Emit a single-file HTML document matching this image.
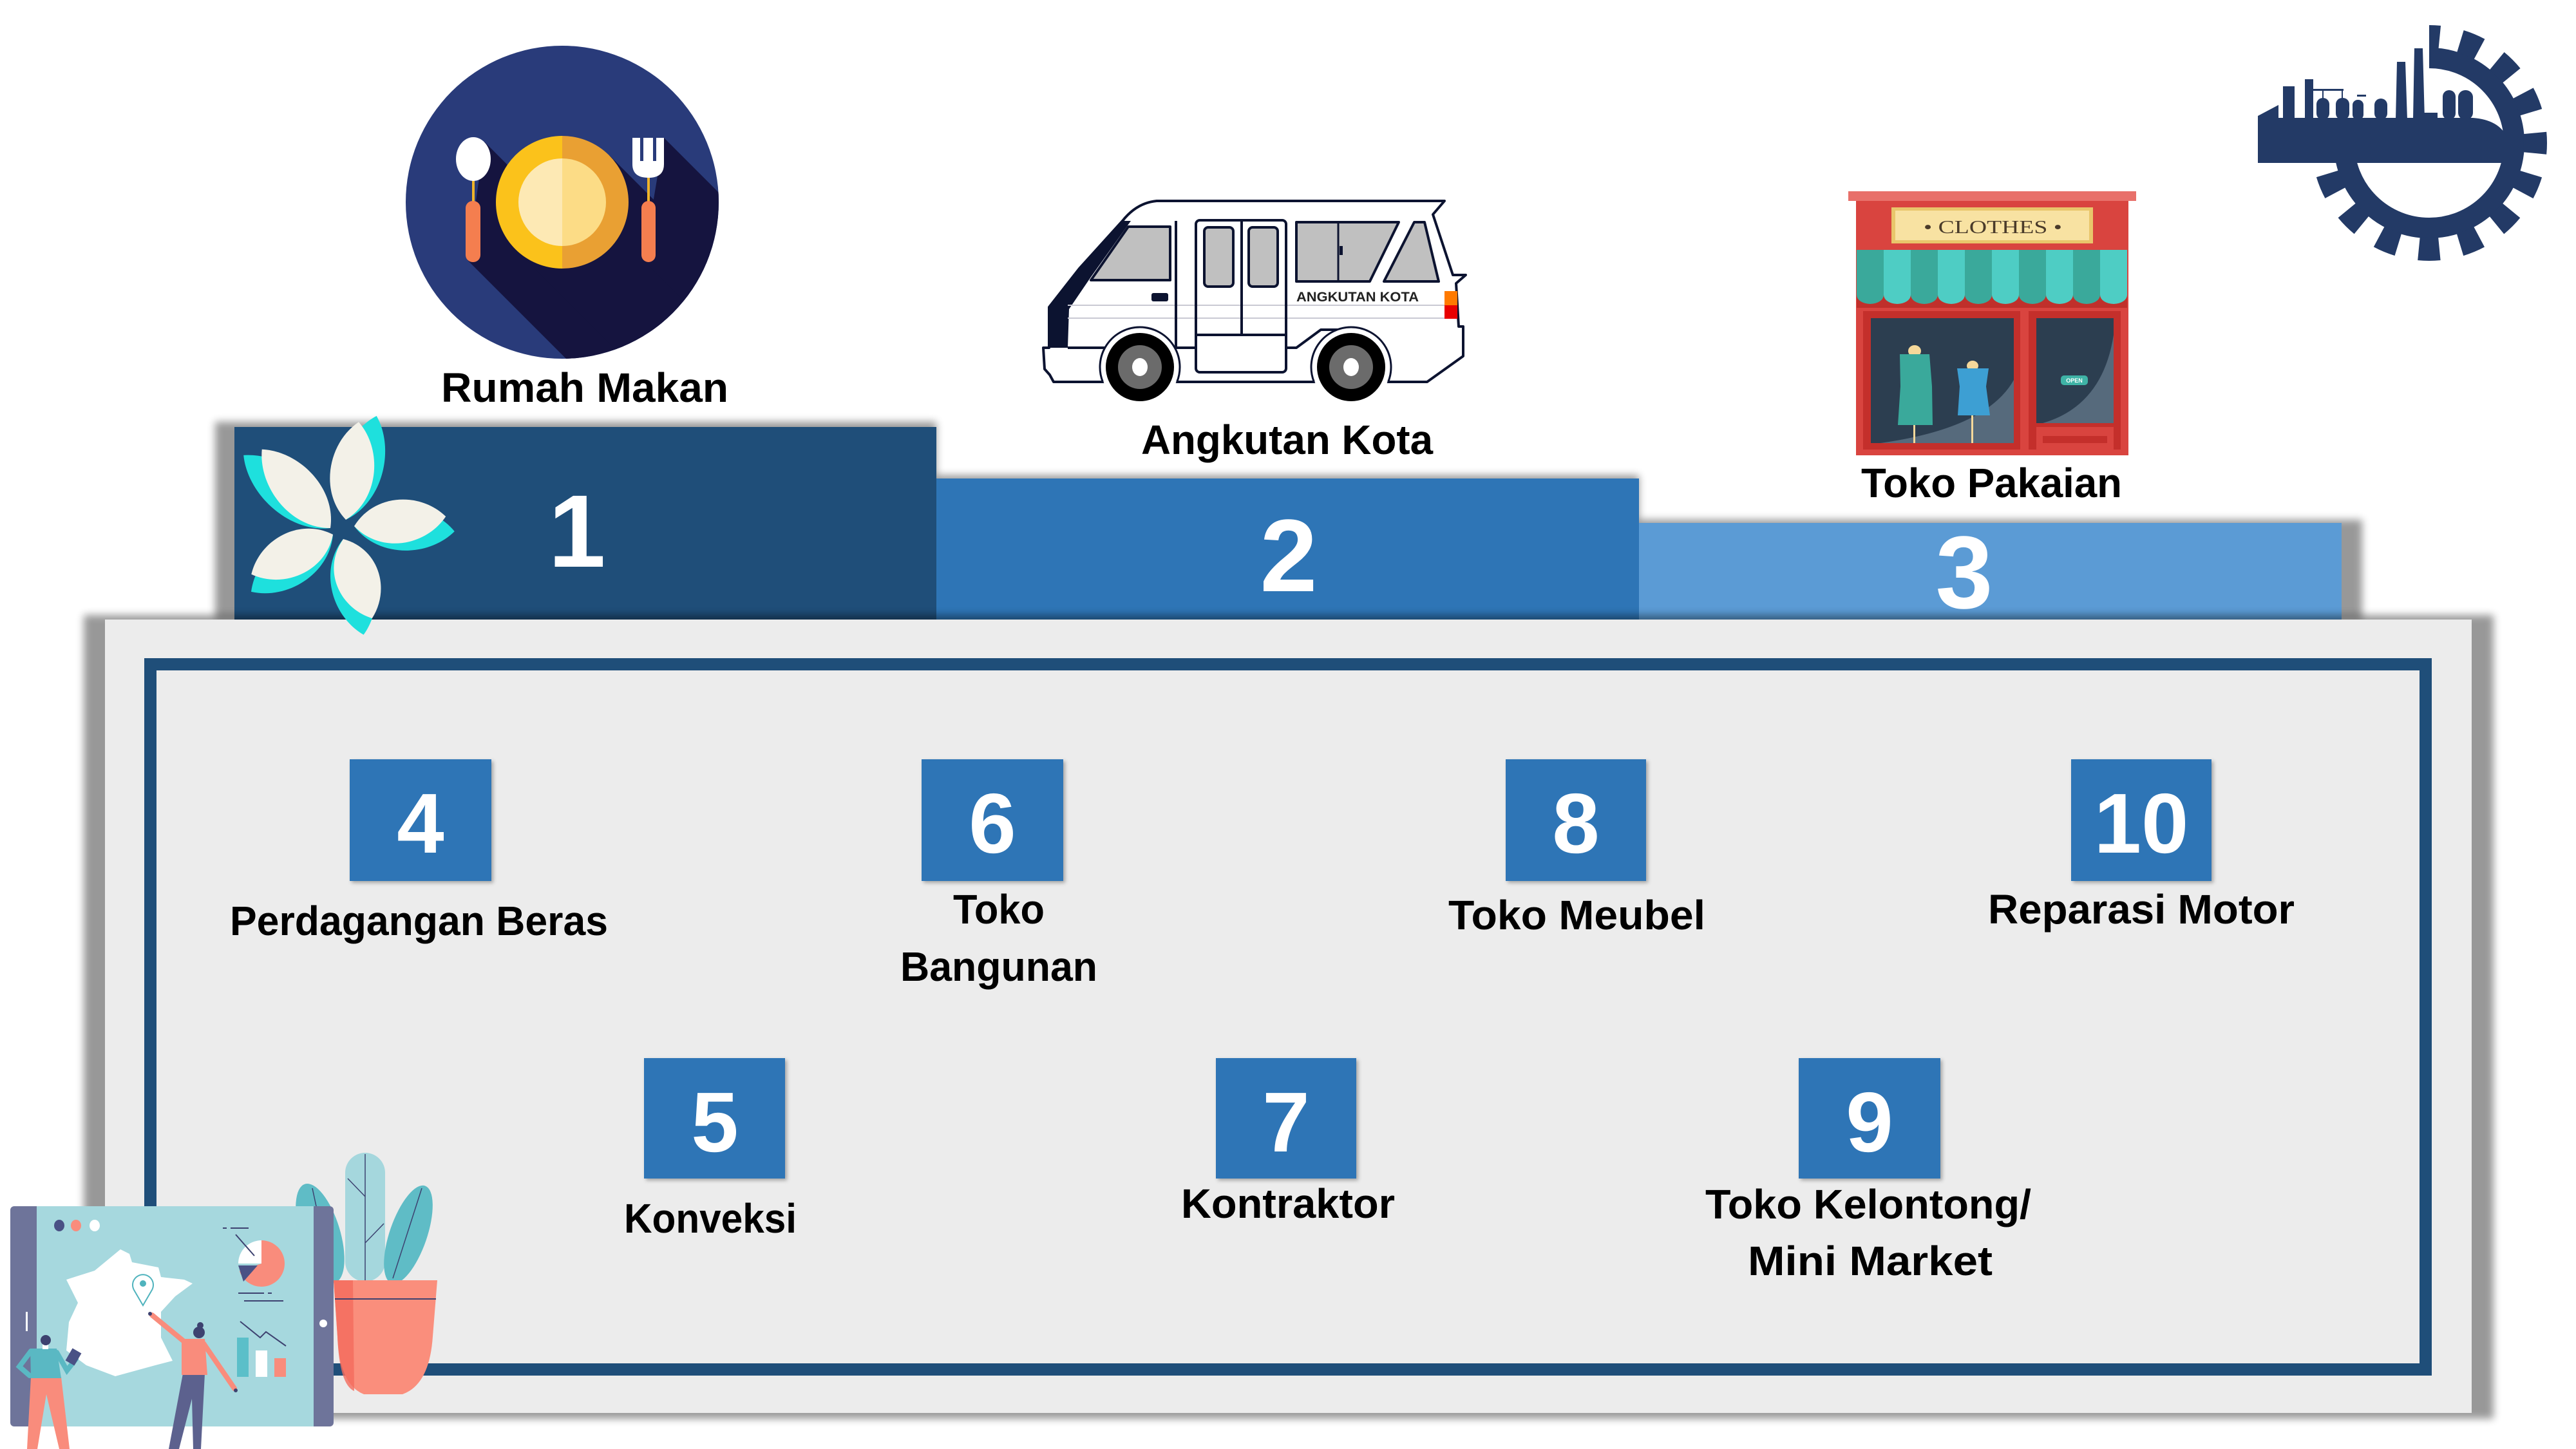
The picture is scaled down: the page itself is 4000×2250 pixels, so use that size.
<!DOCTYPE html>
<html><head><meta charset="utf-8">
<style>
html,body{margin:0;padding:0;background:#fff;}
body{width:4000px;height:2250px;overflow:hidden;}
svg{display:block;}
.lb{font-family:"Liberation Sans",Arial,sans-serif;font-weight:bold;font-size:64px;fill:#000;}
.num{font-family:"Liberation Sans",Arial,sans-serif;font-weight:bold;fill:#fff;text-anchor:middle;}
</style></head>
<body>
<svg xmlns="http://www.w3.org/2000/svg" width="4000" height="2250" viewBox="0 0 4000 2250">
<defs>
 <filter id="b6" x="-10%" y="-10%" width="120%" height="120%"><feGaussianBlur stdDeviation="6"/></filter>
 <filter id="bs" x="-20%" y="-20%" width="140%" height="140%"><feDropShadow dx="3" dy="3" stdDeviation="3" flood-color="#000" flood-opacity="0.3"/></filter>
 <clipPath id="pc"><circle cx="873" cy="314" r="243"/></clipPath>
 <clipPath id="gc"><polygon points="3772,0 4000,0 4000,500 3400,500 3400,253 3772,253"/></clipPath>
</defs>
<rect width="4000" height="2250" fill="#fff"/>

<!-- bar shadows -->
<polygon points="334,655 1454,655 1454,738 2545,738 2545,807 3668,807 3668,962 334,962" fill="#000" opacity="0.4" filter="url(#b6)"/>
<!-- bars -->
<rect x="364" y="663" width="1090" height="299" fill="#1f4e79"/>
<rect x="1454" y="743" width="1091" height="219" fill="#2e75b6"/>
<rect x="2545" y="812" width="1091" height="150" fill="#5b9bd5"/>
<!-- panel shadow -->
<rect x="130" y="955" width="3742" height="1248" fill="#000" opacity="0.4" filter="url(#b6)"/>
<!-- panel -->
<rect x="163" y="962" width="3675" height="1232" fill="#ececec"/>
<rect x="233.5" y="1031.5" width="3533" height="1095" fill="none" stroke="#1f4e79" stroke-width="19"/>

<!-- bar numbers -->
<text class="num" x="896" y="880" font-size="160">1</text>
<text class="num" x="2001" y="918" font-size="160">2</text>
<text class="num" x="3050" y="944" font-size="160">3</text>

<!-- numbered boxes -->
<g filter="url(#bs)" fill="#2e75b6">
 <rect x="543" y="1179" width="220" height="189"/>
 <rect x="1431" y="1179" width="220" height="189"/>
 <rect x="2338" y="1179" width="218" height="189"/>
 <rect x="3216" y="1179" width="218" height="189"/>
 <rect x="1000" y="1643" width="219" height="187"/>
 <rect x="1888" y="1643" width="218" height="187"/>
 <rect x="2793" y="1643" width="220" height="187"/>
</g>
<text class="num" x="653" y="1324" font-size="132">4</text>
<text class="num" x="1541" y="1324" font-size="132">6</text>
<text class="num" x="2447" y="1324" font-size="132">8</text>
<text class="num" x="3325" y="1324" font-size="132">10</text>
<text class="num" x="1110" y="1788" font-size="132">5</text>
<text class="num" x="1997" y="1788" font-size="132">7</text>
<text class="num" x="2903" y="1788" font-size="132">9</text>

<!-- labels -->
<text class="lb" x="685" y="624" textLength="446" lengthAdjust="spacingAndGlyphs">Rumah Makan</text>
<text class="lb" x="1772" y="705" textLength="453" lengthAdjust="spacingAndGlyphs">Angkutan Kota</text>
<text class="lb" x="2890" y="772" textLength="405" lengthAdjust="spacingAndGlyphs">Toko Pakaian</text>
<text class="lb" x="357" y="1452" textLength="587" lengthAdjust="spacingAndGlyphs">Perdagangan Beras</text>
<text class="lb" x="1480" y="1434" textLength="142" lengthAdjust="spacingAndGlyphs">Toko</text>
<text class="lb" x="1398" y="1523" textLength="306" lengthAdjust="spacingAndGlyphs">Bangunan</text>
<text class="lb" x="2249" y="1443" textLength="399" lengthAdjust="spacingAndGlyphs">Toko Meubel</text>
<text class="lb" x="3087" y="1434" textLength="476" lengthAdjust="spacingAndGlyphs">Reparasi Motor</text>
<text class="lb" x="969" y="1914" textLength="268" lengthAdjust="spacingAndGlyphs">Konveksi</text>
<text class="lb" x="1834" y="1891" textLength="332" lengthAdjust="spacingAndGlyphs">Kontraktor</text>
<text class="lb" x="2648" y="1892" textLength="506" lengthAdjust="spacingAndGlyphs">Toko Kelontong/</text>
<text class="lb" x="2714" y="1980" textLength="380" lengthAdjust="spacingAndGlyphs">Mini Market</text>

<!-- plate icon -->
<circle cx="873" cy="314" r="243" fill="#293b7a"/>
<g clip-path="url(#pc)" fill="#15143f">
 <polygon points="752,220 1252,720 1226,904 726,404"/>
 <polygon points="946,241 1446,741 1300,887 800,387"/>
 <polygon points="1031,214 1531,714 1499,904 999,404"/>
</g>
<path d="M873,211 A103,103 0 0 0 873,417 Z" fill="#fbc21b"/>
<path d="M873,211 A103,103 0 0 1 873,417 Z" fill="#e9a033"/>
<path d="M873,246 A68,68 0 0 0 873,382 Z" fill="#fde9b4"/>
<path d="M873,246 A68,68 0 0 1 873,382 Z" fill="#fcdc86"/>
<rect x="733" y="275" width="4" height="40" fill="#f0b429"/>
<ellipse cx="735" cy="247" rx="27" ry="34" fill="#fff"/>
<rect x="723" y="312" width="23" height="95" rx="11" fill="#f47e4f"/>
<rect x="1005" y="270" width="4" height="45" fill="#f0b429"/>
<path d="M982,214 L1031,214 L1031,255 Q1031,276 1007,276 Q982,276 982,255 Z" fill="#fff"/>
<rect x="994" y="214" width="5" height="36" fill="#293b7a"/>
<rect x="1014" y="214" width="5" height="36" fill="#293b7a"/>
<rect x="996" y="312" width="22" height="95" rx="11" fill="#f47e4f"/>

<!-- van -->
<g transform="translate(1600,290)" stroke-linejoin="round">
 <path d="M196,22 L643,22 L625,43 L656,137 L676,137 L661,150 L665,217 L672,217 L672,263 L616,303 L36,303 L30,292 L22,283 L20,250 L29,250 L29,187 L76,127 L143,53 Q165,25 196,22 Z" fill="#fff" stroke="#0c1330" stroke-width="4"/>
 <polygon points="29,187 76,127 143,53 156,53 94,140 60,190 58,250 29,250" fill="#0c1330"/>
 <path d="M58,184 L643,184 M58,204 L643,204" stroke="#c9c9d3" stroke-width="2"/>
 <polygon points="152,62 217,62 217,145 94,145" fill="#c0c0c0" stroke="#0c1330" stroke-width="4"/>
 <path d="M226,53 L226,250 M58,250 L257,250 M328,53 L328,230 M257,230 L397,230 M397,250 L413,250 L451,222 L487,222" fill="none" stroke="#0c1330" stroke-width="4"/>
 <rect x="257" y="52" width="140" height="236" rx="6" fill="none" stroke="#0c1330" stroke-width="4"/>
 <rect x="270" y="63" width="45" height="92" rx="6" fill="#c0c0c0" stroke="#0c1330" stroke-width="4"/>
 <rect x="339" y="63" width="45" height="92" rx="6" fill="#c0c0c0" stroke="#0c1330" stroke-width="4"/>
 <polygon points="413,55 572,55 527,147 413,147" fill="#c0c0c0" stroke="#0c1330" stroke-width="4"/>
 <path d="M478,55 L478,147" stroke="#0c1330" stroke-width="3"/>
 <rect x="480" y="92" width="5" height="14" fill="#0c1330"/>
 <polygon points="596,55 612,55 634,147 549,147" fill="#c0c0c0" stroke="#0c1330" stroke-width="4"/>
 <rect x="188" y="165" width="26" height="13" rx="3" fill="#0c1330"/>
 <text x="413" y="178" font-family="Liberation Sans, Arial, sans-serif" font-weight="bold" font-size="21" fill="#222" textLength="190" lengthAdjust="spacingAndGlyphs">ANGKUTAN KOTA</text>
 <rect x="643" y="162" width="20" height="22" fill="#ff7a00"/>
 <rect x="643" y="184" width="20" height="21" fill="#e80000"/>
 <circle cx="170" cy="280" r="61" fill="#fff"/>
 <path d="M112.4,303 A62,62 0 1 1 227.6,303" fill="none" stroke="#0c1330" stroke-width="3"/>
 <circle cx="170" cy="280" r="53" fill="#000"/>
 <circle cx="170" cy="280" r="34" fill="#6b6b6b"/>
 <ellipse cx="170" cy="280" rx="12" ry="14" fill="#fff"/>
 <circle cx="498" cy="280" r="61" fill="#fff"/>
 <path d="M440.4,303 A62,62 0 1 1 555.6,303" fill="none" stroke="#0c1330" stroke-width="3"/>
 <circle cx="498" cy="280" r="53" fill="#000"/>
 <circle cx="498" cy="280" r="34" fill="#6b6b6b"/>
 <ellipse cx="498" cy="280" rx="12" ry="14" fill="#fff"/>
</g>

<!-- clothes store -->
<rect x="2870" y="297" width="447" height="15" fill="#e8706a"/>
<rect x="2882" y="312" width="423" height="395" fill="#d9443f"/>
<rect x="2937" y="322" width="313" height="56" fill="#e9c66b"/>
<rect x="2943" y="327" width="301" height="46" fill="#f8e2a2"/>
<text x="2987" y="362" font-family="Liberation Serif, serif" font-size="28" fill="#4a3b2a" textLength="215" lengthAdjust="spacingAndGlyphs">• CLOTHES •</text>
<g fill="#c0302b">
 <rect x="2883" y="440" width="420" height="40"/>
</g>
<g>
 <path d="M2883,388 h42 v70 a21,14 0 0 1 -42,0 Z" fill="#3aa99b"/>
 <path d="M2925,388 h42 v70 a21,14 0 0 1 -42,0 Z" fill="#4ecdc4"/>
 <path d="M2967,388 h42 v70 a21,14 0 0 1 -42,0 Z" fill="#3aa99b"/>
 <path d="M3009,388 h42 v70 a21,14 0 0 1 -42,0 Z" fill="#4ecdc4"/>
 <path d="M3051,388 h42 v70 a21,14 0 0 1 -42,0 Z" fill="#3aa99b"/>
 <path d="M3093,388 h42 v70 a21,14 0 0 1 -42,0 Z" fill="#4ecdc4"/>
 <path d="M3135,388 h42 v70 a21,14 0 0 1 -42,0 Z" fill="#3aa99b"/>
 <path d="M3177,388 h42 v70 a21,14 0 0 1 -42,0 Z" fill="#4ecdc4"/>
 <path d="M3219,388 h42 v70 a21,14 0 0 1 -42,0 Z" fill="#3aa99b"/>
 <path d="M3261,388 h42 v70 a21,14 0 0 1 -42,0 Z" fill="#4ecdc4"/>
</g>
<rect x="2882" y="478" width="423" height="6" fill="#d9443f"/>
<rect x="2893" y="483" width="244" height="215" fill="#c42f2b"/>
<rect x="2905" y="494" width="222" height="194" fill="#2c3e50"/>
<path d="M2920,688 Q3085,665 3127,590 L3127,688 Z" fill="#566a7c"/>
<rect x="3150" y="483" width="143" height="215" fill="#c42f2b"/>
<rect x="3162" y="494" width="120" height="163" fill="#2c3e50"/>
<path d="M3172,657 Q3265,630 3282,520 L3282,657 Z" fill="#566a7c"/>
<rect x="3162" y="663" width="120" height="35" fill="#d9443f"/>
<rect x="3172" y="677" width="100" height="11" fill="#c42f2b"/>
<rect x="2971" y="655" width="3" height="33" fill="#f5d89a"/>
<rect x="3061" y="642" width="3" height="46" fill="#f5d89a"/>
<ellipse cx="2973" cy="545" rx="10" ry="9" fill="#f5d89a"/>
<polygon points="2950,550 2996,550 3000,600 3001,660 2947,660 2951,600" fill="#3aa99b"/>
<ellipse cx="3063" cy="568" rx="9" ry="8" fill="#f5d89a"/>
<polygon points="3039,572 3088,572 3084,600 3090,645 3040,645 3043,600" fill="#3d9fd3"/>
<rect x="3200" y="583" width="42" height="15" rx="5" fill="#3fb3a6"/>
<text x="3221" y="594" font-family="Liberation Sans, Arial, sans-serif" font-size="9" font-weight="bold" fill="#fff" text-anchor="middle">OPEN</text>

<!-- gear logo -->
<g fill="#233a66">
 <g clip-path="url(#gc)" fill="none" stroke="#233a66">
  <circle cx="3772" cy="222" r="132" stroke-width="32"/>
  <circle cx="3772" cy="222" r="165" stroke-width="36" stroke-dasharray="32 32.796" stroke-dashoffset="16"/>
 </g>
 <path d="M3506,253 L3506,180 L3538,163 L3538,183 L3840,183 Q3880,186 3893,213 L3893,253 Z"/>
 <rect x="3545" y="134" width="18" height="52"/>
 <rect x="3579" y="123" width="13" height="63"/>
 <rect x="3592" y="138" width="47" height="3"/>
 <rect x="3606" y="138" width="2" height="16"/>
 <rect x="3636" y="138" width="2" height="16"/>
 <rect x="3597" y="152" width="20" height="34" rx="10"/>
 <rect x="3627" y="152" width="21" height="34" rx="10"/>
 <rect x="3653" y="155" width="17" height="31" rx="8"/>
 <rect x="3660" y="147" width="14" height="3"/>
 <rect x="3687" y="153" width="20" height="33" rx="10"/>
 <polygon points="3720,186 3722,96 3735,96 3738,186"/>
 <polygon points="3747,186 3749,75 3762,75 3765,186"/>
 <rect x="3763" y="175" width="22" height="10"/>
 <rect x="3793" y="140" width="20" height="46" rx="10"/>
 <rect x="3817" y="140" width="23" height="46" rx="11"/>
</g>

<!-- flower -->
<g>
 <g fill="#1ee0dd">
  <path transform="translate(537,807) rotate(16.5)" d="M0,0 C47,-42 43,-126 0,-168 C-43,-126 -47,-42 0,0Z"/>
  <path transform="translate(513,820) rotate(-50)" d="M0,0 C47,-44 43,-132 0,-176 C-43,-132 -47,-44 0,0Z"/>
  <path transform="translate(550,817) rotate(93)" d="M0,0 C47,-39 43,-117 0,-156 C-43,-117 -47,-39 0,0Z"/>
  <path transform="translate(517,830) rotate(-125)" d="M0,0 C47,-39 43,-116 0,-155 C-43,-116 -47,-39 0,0Z"/>
  <path transform="translate(533,837) rotate(168)" d="M0,0 C47,-38 43,-113 0,-152 C-43,-113 -47,-38 0,0Z"/>
 </g>
 <g fill="#f3f1e8">
  <path transform="translate(537,807) rotate(7.5)" d="M0,0 C47,-38 43,-115 0,-153 C-43,-115 -47,-38 0,0Z"/>
  <path transform="translate(513,820) rotate(-41)" d="M0,0 C47,-40 43,-121 0,-162 C-43,-121 -47,-40 0,0Z"/>
  <path transform="translate(550,817) rotate(84)" d="M0,0 C47,-36 43,-107 0,-143 C-43,-107 -47,-36 0,0Z"/>
  <path transform="translate(517,830) rotate(-116)" d="M0,0 C47,-35 43,-106 0,-141 C-43,-106 -47,-35 0,0Z"/>
  <path transform="translate(533,837) rotate(160)" d="M0,0 C47,-33 43,-98 0,-131 C-43,-98 -47,-33 0,0Z"/>
 </g>
</g>

<!-- bottom-left illustration: plant -->
<ellipse cx="497" cy="1915" rx="31" ry="80" transform="rotate(-17 497 1915)" fill="#5fbcc6"/>
<rect x="536" y="1790" width="62" height="200" rx="31" fill="#a5d7dd"/>
<path d="M567,1792 L567,1988 M540,1830 L567,1858 M596,1900 L567,1930" stroke="#3d4270" stroke-width="1.5" fill="none"/>
<ellipse cx="634" cy="1917" rx="29" ry="80" transform="rotate(19 634 1917)" fill="#5fbcc6"/>
<path d="M655,1845 L610,1985 M485,1845 L515,1985" stroke="#3d4270" stroke-width="1.5" fill="none"/>
<path d="M518,1988 L679,1988 L672,2075 Q667,2150 625,2165 L565,2165 Q527,2150 524,2075 Z" fill="#fa8e7c"/>
<path d="M518,1988 L548,1988 L550,2160 Q527,2150 524,2075 Z" fill="#f46c5c" opacity="0.8"/>
<path d="M520,2017 L677,2017" stroke="#3d4270" stroke-width="2"/>

<!-- tablet -->
<rect x="16" y="1873" width="502" height="342" rx="6" fill="#6e749a"/>
<rect x="57" y="1873" width="430" height="342" fill="#a6d8de"/>
<rect x="40" y="2037" width="3" height="30" fill="#fff"/>
<circle cx="502" cy="2055" r="6" fill="#fff"/>
<ellipse cx="92" cy="1903" rx="8" ry="9" fill="#4a5185"/>
<ellipse cx="118" cy="1903" rx="8" ry="9" fill="#f98c7c"/>
<ellipse cx="147" cy="1903" rx="8" ry="9" fill="#fff"/>
<polygon points="187,1940 201,1947 205,1960 246,1968 250,1983 286,1987 299,1993 272,2013 250,2037 250,2077 268,2113 241,2120 179,2137 134,2120 103,2097 107,2053 121,2023 103,1987 147,1973" fill="#fff"/>
<path d="M222,2027 L208,2003 A16,16 0 1 1 236,2003 Z" fill="none" stroke="#4fb3bd" stroke-width="2"/>
<circle cx="222" cy="1993" r="5" fill="#4fb3bd"/>
<path d="M406,1962 L406,1926 A36,36 0 0 1 406,1998 Z" fill="#f98c7c"/>
<path d="M406,1962 L406,1998 A36,36 0 0 1 372,1974 Z" fill="#f98c7c"/>
<path d="M406,1962 L370,1962 A36,36 0 0 1 406,1926 Z" fill="#fff"/>
<polygon points="370,1965 400,1965 378,1990" fill="#4a5185"/>
<path d="M346,1907 L352,1907 M358,1907 L386,1907 M366,1917 L395,1950 M370,2008 L410,2008 M416,2008 L422,2008 M379,2020 L440,2020 M373,2052 L404,2077 L413,2068 L444,2090" stroke="#3d4270" stroke-width="2" fill="none"/>
<rect x="368" y="2077" width="18" height="61" fill="#5bbfc9"/>
<rect x="397" y="2097" width="18" height="41" fill="#fff"/>
<rect x="426" y="2109" width="18" height="29" fill="#f98c7c"/>

<!-- person 1 -->
<polygon points="48,2138 95,2138 108,2250 92,2250 72,2165 58,2250 42,2250" fill="#f98c7c"/>
<polygon points="47,2094 88,2094 95,2140 48,2140" fill="#5ab8c3"/>
<path d="M48,2098 L30,2122 L46,2136 M88,2100 L104,2128 L118,2110" stroke="#5ab8c3" stroke-width="8" fill="none" stroke-linecap="round"/>
<rect x="106" y="2096" width="16" height="22" fill="#4a5185" transform="rotate(30 114 2107)"/>
<rect x="66" y="2085" width="9" height="10" fill="#fff"/>
<circle cx="71" cy="2081" r="8" fill="#3d4270"/>
<!-- person 2 -->
<polygon points="284,2133 318,2133 312,2250 300,2250 298,2172 278,2250 262,2250" fill="#5c618e"/>
<polygon points="282,2079 318,2079 322,2135 282,2135" fill="#f98c7c"/>
<path d="M287,2084 L236,2042 M316,2086 L364,2156" stroke="#f98c7c" stroke-width="8" fill="none" stroke-linecap="round"/>
<circle cx="233" cy="2040" r="3" fill="#3d4270"/>
<circle cx="366" cy="2159" r="3" fill="#3d4270"/>
<circle cx="309" cy="2069" r="9" fill="#3d4270"/>
<circle cx="311" cy="2058" r="5" fill="#3d4270"/>
</svg>
</body></html>
